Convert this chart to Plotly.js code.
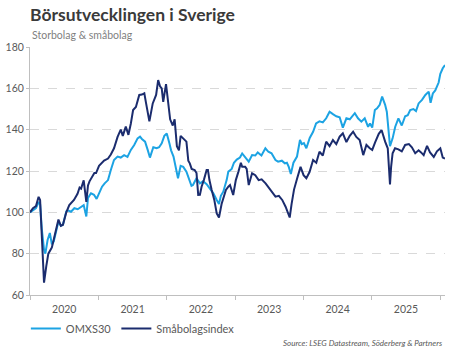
<!DOCTYPE html>
<html>
<head>
<meta charset="utf-8">
<script src="https://cdn.plot.ly/plotly-3.0.1.min.js"></script>
<style>
  html, body { margin: 0; padding: 0; background: #ffffff; }
  #chart { width: 462px; height: 347px; }
</style>
</head>
<body>
<div id="chart"></div>
<script>
const titleText = "Börsutvecklingen i Sverige";
const subtitleText = "Storbolag & småbolag";
const sourceText = "Source: LSEG Datastream, Söderberg & Partners";
const seriesNames = ["OMXS30", "Småbolagsindex"];

const omxDates = [
"2020-01-01","2020-01-17","2020-02-02","2020-02-16","2020-02-24","2020-03-04","2020-03-16","2020-03-23","2020-04-04","2020-04-16",
"2020-04-27","2020-05-07","2020-05-18","2020-06-01","2020-06-14","2020-06-25","2020-07-13","2020-07-21","2020-08-07","2020-08-25",
"2020-09-12","2020-09-30","2020-10-14","2020-10-28","2020-11-06","2020-11-22","2020-12-08","2020-12-22","2021-01-06","2021-01-20",
"2021-02-03","2021-02-21","2021-03-08","2021-03-25","2021-04-13","2021-04-30","2021-05-18","2021-06-05","2021-06-23","2021-07-11",
"2021-07-29","2021-08-11","2021-08-21","2021-09-07","2021-09-21","2021-10-03","2021-10-21","2021-11-08","2021-11-21","2021-12-05",
"2021-12-19","2022-01-01","2022-01-15","2022-01-24","2022-02-06","2022-02-20","2022-03-02","2022-03-16","2022-03-30","2022-04-16",
"2022-04-25","2022-05-04","2022-05-13","2022-05-21","2022-06-09","2022-06-27","2022-07-14","2022-08-02","2022-08-19","2022-09-07",
"2022-09-25","2022-10-07","2022-10-17","2022-10-30","2022-11-17","2022-11-26","2022-12-14","2022-12-26","2023-01-10","2023-01-27",
"2023-02-08","2023-02-19","2023-03-02","2023-03-15","2023-04-02","2023-04-19","2023-05-02","2023-05-22","2023-06-12","2023-06-28",
"2023-07-15","2023-08-05","2023-08-19","2023-09-08","2023-09-24","2023-10-05","2023-10-15","2023-10-26","2023-11-09","2023-11-28",
"2023-12-14","2023-12-24","2024-01-04","2024-01-17","2024-02-04","2024-02-22","2024-03-09","2024-03-27","2024-04-14","2024-05-02",
"2024-05-20","2024-06-07","2024-06-25","2024-07-13","2024-07-30","2024-08-18","2024-09-05","2024-10-02","2024-10-19","2024-11-06",
"2024-11-24","2024-12-12","2024-12-22","2025-01-03","2025-01-17","2025-01-29","2025-02-12","2025-02-25","2025-03-04","2025-03-13",
"2025-03-22","2025-03-31","2025-04-08","2025-04-22","2025-05-06","2025-05-23","2025-06-10","2025-06-28","2025-07-12","2025-07-25",
"2025-08-11","2025-08-25","2025-09-08","2025-09-26","2025-10-14","2025-11-01","2025-11-11","2025-11-23","2025-12-06","2025-12-24",
"2026-01-02","2026-01-15","2026-01-27"];
const omxValues = [
100,101,102,105,104,92,82,80,86.6,90,
84.5,86,90,95.5,93.5,94,100.5,101,100.3,102,
101.5,102.7,103.5,98,107,109.2,108.5,106.5,110,112.4,
114,115.6,120.5,125.3,127,126.5,127.7,126.8,130.2,132.6,
135.8,136.6,135.5,134.2,130.2,126.5,131.5,131,131.5,133.4,
137,138.2,133.4,130,127,120.5,116.5,122.5,122,119.7,
117.2,115.6,112.8,113.2,116.5,114,115,113.6,111.6,109.2,
106,104,108,110,115.6,119.7,121,124,125.5,126.5,
128.5,127,126,124.5,127.7,127.5,129,127.5,131,129.3,
128.6,125.3,124.5,125,123.7,124,122,118.5,124,127,
135,133,133.5,131,136,139,143,144,143.5,145.5,
148.7,147.5,146.5,146,141,145.5,145,148,145.5,143.9,
145.5,141.4,143,141,149.5,150.3,152,156,154.5,152,
148.7,138.2,132,135.8,141.4,145.5,142,146.5,147,149.5,
150,149,152.7,154.4,156.8,158.4,153,157.5,159,162.8,
167,169.7,171.3];

const smallDates = [
"2020-01-01","2020-01-17","2020-02-02","2020-02-16","2020-02-24","2020-03-04","2020-03-16","2020-03-28","2020-04-08","2020-04-27",
"2020-05-18","2020-06-01","2020-06-14","2020-06-25","2020-07-13","2020-07-29","2020-08-23","2020-09-11","2020-09-22","2020-09-30",
"2020-10-14","2020-10-28","2020-11-06","2020-11-14","2020-12-10","2020-12-19","2021-01-04","2021-01-18","2021-01-31","2021-02-21",
"2021-03-08","2021-03-25","2021-04-13","2021-04-30","2021-05-11","2021-05-27","2021-06-10","2021-06-23","2021-07-05","2021-07-20",
"2021-08-07","2021-08-21","2021-09-03","2021-09-12","2021-09-30","2021-10-18","2021-11-05","2021-11-16","2021-11-26","2021-12-05",
"2021-12-13","2021-12-28","2022-01-05","2022-01-19","2022-02-02","2022-02-12","2022-02-24","2022-03-07","2022-03-16","2022-03-27",
"2022-04-16","2022-04-26","2022-05-04","2022-05-14","2022-05-30","2022-06-09","2022-06-18","2022-06-27","2022-07-06","2022-07-18",
"2022-08-02","2022-08-09","2022-08-17","2022-08-29","2022-09-12","2022-09-25","2022-10-07","2022-10-21","2022-11-04","2022-11-13",
"2022-11-26","2022-12-05","2022-12-22","2023-01-05","2023-01-19","2023-02-01","2023-02-08","2023-02-24","2023-03-04","2023-03-15",
"2023-04-02","2023-04-19","2023-05-07","2023-05-23","2023-06-13","2023-06-30","2023-07-18","2023-08-05","2023-08-23","2023-09-10",
"2023-09-28","2023-10-20","2023-10-30","2023-11-12","2023-11-29","2023-12-17","2024-01-02","2024-01-17","2024-02-03","2024-02-22",
"2024-03-10","2024-03-27","2024-04-14","2024-05-02","2024-05-20","2024-06-07","2024-06-25","2024-07-13","2024-07-30","2024-08-18",
"2024-09-05","2024-09-23","2024-10-10","2024-10-28","2024-11-16","2024-12-03","2024-12-21","2025-01-03","2025-01-19","2025-02-07",
"2025-02-22","2025-03-02","2025-03-13","2025-03-27","2025-04-08","2025-04-14","2025-04-22","2025-05-05","2025-05-23","2025-06-10",
"2025-06-28","2025-07-18","2025-08-03","2025-08-21","2025-09-08","2025-09-21","2025-10-05","2025-10-23","2025-11-08","2025-11-28",
"2025-12-15","2026-01-02","2026-01-15","2026-01-27"];
const smallValues = [
100,102,103,107.5,106,90,66,74,80,83,
91,96.5,93.5,94,100,103.5,106,109,112,111.5,
115.5,105,113,115,119,119,122.5,124,125,126,
128,131,136.5,140,137,141.5,137.5,143,149.5,151,
156.8,157,157.6,153,144,152.7,156.8,164,161,160,
153.5,162,155,145,142,145,132,130,137,136,
134.2,125,123.7,121,120.5,119,108.4,108.5,112.4,115.6,
120.5,120.5,115.6,110.8,106,99.5,97.5,104,107.6,110.8,
112.4,113.2,108.4,115.6,119.7,124,122,122,121,113.2,
118.9,118,115.6,116,114,112,110,107.6,108,106,
102.7,97.5,104,111,116.5,122,118,116.5,119.5,125.3,
124,129.3,127.5,134.2,132,135,133,136.6,138.2,134,
137,139,136.5,135,127.7,132.6,131,130.2,134,138,
139.8,137,134.2,131,113.5,122,128.6,131,130.5,129.5,
132.6,133,131.5,128.6,130,129,127.7,132.2,129,126.8,
129.5,131,126.5,126];

const yTicks = [60, 80, 100, 120, 140, 160, 180];
const colors = ["#1ca3e3", "#1b2c6e"];

const FONT = "Lato, 'Open Sans', sans-serif";

const traces = [
  { x: omxDates, y: omxValues, name: seriesNames[0], type: "scatter", mode: "lines",
    line: { color: colors[0], width: 2 } },
  { x: smallDates, y: smallValues, name: seriesNames[1], type: "scatter", mode: "lines",
    line: { color: colors[1], width: 2 } }
];

const layout = {
  width: 462, height: 347,
  margin: { l: 30, r: 17, t: 47, b: 52, autoexpand: false },
  paper_bgcolor: "#ffffff", plot_bgcolor: "#ffffff",
  font: { family: FONT, color: "#595959", size: 10.5 },
  title: {
    text: "<b>" + titleText + "</b>",
    font: { family: FONT, size: 17.5, color: "#3a3a3a" },
    x: 30 / 462, xanchor: "left", xref: "container",
    y: 1 - 15 / 347, yanchor: "middle", yref: "container"
  },
  showlegend: true,
  legend: {
    orientation: "h", x: -0.01, xanchor: "left", y: (295 - 314) / 248, yanchor: "top",
    font: { family: FONT, size: 11, color: "#595959" },
    bgcolor: "rgba(0,0,0,0)", traceorder: "normal"
  },
  xaxis: {
    type: "date",
    range: ["2020-01-01", "2026-01-27"],
    tick0: "2020-01-01", dtick: "M12",
    tickformat: "%Y", ticklabelmode: "period",
    ticks: "outside", ticklen: 4, tickcolor: "#bfbfbf", tickwidth: 1,
    showline: true, linecolor: "#bfbfbf", linewidth: 1,
    showgrid: false, zeroline: false,
    tickfont: { family: FONT, size: 10.5, color: "#595959" },
    fixedrange: true
  },
  yaxis: {
    range: [60, 180],
    tickmode: "array", tickvals: yTicks,
    ticks: "outside", ticklen: 3, tickcolor: "#bfbfbf",
    showline: true, linecolor: "#bfbfbf", linewidth: 1,
    showgrid: true, gridcolor: "#d9d9d9", griddash: "dash", gridwidth: 1,
    zeroline: false,
    tickfont: { family: FONT, size: 10.5, color: "#595959" },
    fixedrange: true
  },
  annotations: [
    { text: subtitleText, xref: "paper", yref: "paper", x: 0, xanchor: "left",
      y: (295 - 35) / 248, yanchor: "middle", showarrow: false,
      font: { family: FONT, size: 10.5, color: "#7f7f7f" } },
    { text: "<i>" + sourceText + "</i>", xref: "paper", yref: "paper", x: 1, xanchor: "right",
      y: (295 - 343) / 248, yanchor: "middle", showarrow: false,
      font: { family: FONT, size: 8, color: "#595959" } }
  ]
};

Plotly.newPlot("chart", traces, layout, { displayModeBar: false, staticPlot: true });
</script>
</body>
</html>
